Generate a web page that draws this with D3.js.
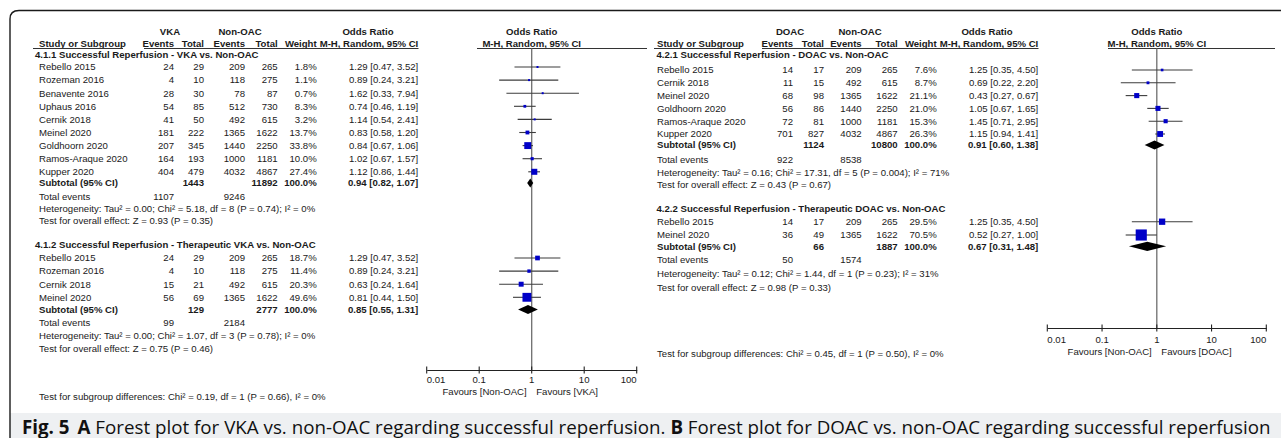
<!DOCTYPE html>
<html>
<head>
<meta charset="utf-8">
<script src="https://cdn.jsdelivr.net/npm/d3@7"></script>
<style>
  html, body { margin: 0; padding: 0; background: #fff; }
  svg { display: block; }
  .t { font-family: "Liberation Sans", Arial, sans-serif; fill: #1a1a1a; }
  .b { font-weight: bold; }
</style>
</head>
<body>
<svg id="fig" width="1281" height="438"></svg>
<script>
// ---------- Panel A: VKA vs. Non-OAC ----------
const a1Studies = ["Rebello 2015", "Rozeman 2016", "Benavente 2016", "Uphaus 2016", "Cernik 2018", "Meinel 2020", "Goldhoorn 2020", "Ramos-Araque 2020", "Kupper 2020"];
const a1ExpEvents = [24, 4, 28, 54, 41, 181, 207, 164, 404];
const a1ExpTotal = [29, 10, 30, 85, 50, 222, 345, 193, 479];
const a1CtlEvents = [209, 118, 78, 512, 492, 1365, 1440, 1000, 4032];
const a1CtlTotal = [265, 275, 87, 730, 615, 1622, 2250, 1181, 4867];
const a1Weight = [1.8, 1.1, 0.7, 8.3, 3.2, 13.7, 33.8, 10.0, 27.4];
const a1OR = [1.29, 0.89, 1.62, 0.74, 1.14, 0.83, 0.84, 1.02, 1.12];
const a1Lo = [0.47, 0.24, 0.33, 0.46, 0.54, 0.58, 0.67, 0.67, 0.86];
const a1Hi = [3.52, 3.21, 7.94, 1.19, 2.41, 1.20, 1.06, 1.57, 1.44];
const a1Subtotal = { expTotal: 1443, ctlTotal: 11892, or: 0.94, lo: 0.82, hi: 1.07, expEvents: 1107, ctlEvents: 9246 };
const a1Het = "Heterogeneity: Tau² = 0.00; Chi² = 5.18, df = 8 (P = 0.74); I² = 0%";
const a1Test = "Test for overall effect: Z = 0.93 (P = 0.35)";

const a2Studies = ["Rebello 2015", "Rozeman 2016", "Cernik 2018", "Meinel 2020"];
const a2ExpEvents = [24, 4, 15, 56];
const a2ExpTotal = [29, 10, 21, 69];
const a2CtlEvents = [209, 118, 492, 1365];
const a2CtlTotal = [265, 275, 615, 1622];
const a2Weight = [18.7, 11.4, 20.3, 49.6];
const a2OR = [1.29, 0.89, 0.63, 0.81];
const a2Lo = [0.47, 0.24, 0.24, 0.44];
const a2Hi = [3.52, 3.21, 1.64, 1.50];
const a2Subtotal = { expTotal: 129, ctlTotal: 2777, or: 0.85, lo: 0.55, hi: 1.31, expEvents: 99, ctlEvents: 2184 };
const a2Het = "Heterogeneity: Tau² = 0.00; Chi² = 1.07, df = 3 (P = 0.78); I² = 0%";
const a2Test = "Test for overall effect: Z = 0.75 (P = 0.46)";
const aSubgroupTest = "Test for subgroup differences: Chi² = 0.19, df = 1 (P = 0.66), I² = 0%";

// ---------- Panel B: DOAC vs. Non-OAC ----------
const b1Studies = ["Rebello 2015", "Cernik 2018", "Meinel 2020", "Goldhoorn 2020", "Ramos-Araque 2020", "Kupper 2020"];
const b1ExpEvents = [14, 11, 68, 56, 72, 701];
const b1ExpTotal = [17, 15, 98, 86, 81, 827];
const b1CtlEvents = [209, 492, 1365, 1440, 1000, 4032];
const b1CtlTotal = [265, 615, 1622, 2250, 1181, 4867];
const b1Weight = [7.6, 8.7, 21.1, 21.0, 15.3, 26.3];
const b1OR = [1.25, 0.69, 0.43, 1.05, 1.45, 1.15];
const b1Lo = [0.35, 0.22, 0.27, 0.67, 0.71, 0.94];
const b1Hi = [4.50, 2.20, 0.67, 1.65, 2.95, 1.41];
const b1Subtotal = { expTotal: 1124, ctlTotal: 10800, or: 0.91, lo: 0.60, hi: 1.38, expEvents: 922, ctlEvents: 8538 };
const b1Het = "Heterogeneity: Tau² = 0.16; Chi² = 17.31, df = 5 (P = 0.004); I² = 71%";
const b1Test = "Test for overall effect: Z = 0.43 (P = 0.67)";

const b2Studies = ["Rebello 2015", "Meinel 2020"];
const b2ExpEvents = [14, 36];
const b2ExpTotal = [17, 49];
const b2CtlEvents = [209, 1365];
const b2CtlTotal = [265, 1622];
const b2Weight = [29.5, 70.5];
const b2OR = [1.25, 0.52];
const b2Lo = [0.35, 0.27];
const b2Hi = [4.50, 1.00];
const b2Subtotal = { expTotal: 66, ctlTotal: 1887, or: 0.67, lo: 0.31, hi: 1.48, expEvents: 50, ctlEvents: 1574 };
const b2Het = "Heterogeneity: Tau² = 0.12; Chi² = 1.44, df = 1 (P = 0.23); I² = 31%";
const b2Test = "Test for overall effect: Z = 0.98 (P = 0.33)";
const bSubgroupTest = "Test for subgroup differences: Chi² = 0.45, df = 1 (P = 0.50), I² = 0%";

const tickValues = [0.01, 0.1, 1, 10, 100];
const tickLabels = ["0.01", "0.1", "1", "10", "100"];

// ---------- assemble sections ----------
function section(title, studies, ee, et, ce, ct, w, or, lo, hi, sub, het, test) {
  return {
    title, sub, het, test,
    rows: studies.map((s, i) => ({ name: s, ee: ee[i], et: et[i], ce: ce[i], ct: ct[i], w: w[i], or: or[i], lo: lo[i], hi: hi[i] }))
  };
}

const panelA = {
  expLabel: "VKA",
  favours: ["Favours [Non-OAC]", "Favours [VKA]"],
  subgroupTest: aSubgroupTest,
  sections: [
    section("4.1.1 Successful Reperfusion - VKA vs. Non-OAC", a1Studies, a1ExpEvents, a1ExpTotal, a1CtlEvents, a1CtlTotal, a1Weight, a1OR, a1Lo, a1Hi, a1Subtotal, a1Het, a1Test),
    section("4.1.2 Successful Reperfusion - Therapeutic VKA vs. Non-OAC", a2Studies, a2ExpEvents, a2ExpTotal, a2CtlEvents, a2CtlTotal, a2Weight, a2OR, a2Lo, a2Hi, a2Subtotal, a2Het, a2Test)
  ]
};
const panelB = {
  expLabel: "DOAC",
  favours: ["Favours [Non-OAC]", "Favours [DOAC]"],
  subgroupTest: bSubgroupTest,
  sections: [
    section("4.2.1 Successful Reperfusion - DOAC vs. Non-OAC", b1Studies, b1ExpEvents, b1ExpTotal, b1CtlEvents, b1CtlTotal, b1Weight, b1OR, b1Lo, b1Hi, b1Subtotal, b1Het, b1Test),
    section("4.2.2 Successful Reperfusion - Therapeutic DOAC vs. Non-OAC", b2Studies, b2ExpEvents, b2ExpTotal, b2CtlEvents, b2CtlTotal, b2Weight, b2OR, b2Lo, b2Hi, b2Subtotal, b2Het, b2Test)
  ]
};

// ---------- layout for each panel ----------
const layoutA = {
  nameX: 39, secX: 35,
  cols: { ee: 174, et: 204, ce: 245, ct: 277.7, w: 316.7, or: 418.3 },
  grpX: [170, 240], orHeadX: 368,
  plotRange: [426.7, 636.7],
  headY1: 32, headY2: 44, lineY: 48.5,
  underlines: [[33, 123], [144, 418.5], [477, 647]],
  axisY: 370, tickLabY: 380, favY: 391.5,
  secs: [
    { headY: 55, rowY0: 67, dy: 13.1, subY: 183, totY: 197, hetY: 209, testY: 220.5 },
    { headY: 245, rowY0: 258, dy: 13.1, subY: 309.5, totY: 322.7, hetY: 336, testY: 349 }
  ],
  subgroupY: 397
};
const layoutB = {
  nameX: 657, secX: 656.5,
  cols: { ee: 793, et: 824, ce: 861.7, ct: 897.7, w: 936.7, or: 1038.3 },
  grpX: [790, 860], orHeadX: 987,
  plotRange: [1047.3, 1266.3],
  headY1: 32, headY2: 44, lineY: 48.5,
  underlines: [[654, 740], [762, 1038.5], [1108, 1275]],
  axisY: 328, tickLabY: 340, favY: 352,
  secs: [
    { headY: 55, rowY0: 70, dy: 12.8, subY: 145, totY: 159.3, hetY: 172.3, testY: 184.3 },
    { headY: 208.3, rowY0: 221.7, dy: 13.3, subY: 246.3, totY: 260, hetY: 274, testY: 288 }
  ],
  subgroupY: 354
};

const FS = 9.6;
const svg = d3.select("#fig");

// caption band and rounded figure frame
svg.append("rect").attr("x", 10).attr("y", 413).attr("width", 1271).attr("height", 25).attr("fill", "#eef0f2");
svg.append("path")
  .attr("d", "M10,438 L10,19 Q10,10.5 19,10.5 L1281,10.5")
  .attr("fill", "none").attr("stroke", "#1a1a1a").attr("stroke-width", 1.4);

const fmt2 = d3.format(".2f");
const fmtW = d => d3.format(".1f")(d) + "%";
const sizeScale = d3.scalePow().exponent(0.65).domain([0, 100]).range([0, 0.7 * Math.pow(100, 0.65)]);

function txt(g, x, y, s, anchor, bold, size) {
  return g.append("text").attr("class", "t" + (bold ? " b" : ""))
    .attr("x", x).attr("y", y).attr("dy", "0.35em")
    .attr("text-anchor", anchor || "start")
    .style("font-size", (size || FS) + "px")
    .text(s);
}

function drawPanel(p, L) {
  const g = svg.append("g");
  const x = d3.scaleLog().domain([0.01, 100]).range(L.plotRange);
  const c = L.cols;

  // column headers
  txt(g, L.grpX[0], L.headY1, p.expLabel, "middle", true);
  txt(g, L.grpX[1], L.headY1, "Non-OAC", "middle", true);
  txt(g, L.orHeadX, L.headY1, "Odds Ratio", "middle", true);
  txt(g, x(1), L.headY1, "Odds Ratio", "middle", true);
  txt(g, L.nameX, L.headY2, "Study or Subgroup", "start", true);
  txt(g, c.ee, L.headY2, "Events", "end", true);
  txt(g, c.et, L.headY2, "Total", "end", true);
  txt(g, c.ce, L.headY2, "Events", "end", true);
  txt(g, c.ct, L.headY2, "Total", "end", true);
  txt(g, c.w, L.headY2, "Weight", "end", true);
  txt(g, c.or, L.headY2, "M-H, Random, 95% CI", "end", true);
  txt(g, x(1), L.headY2, "M-H, Random, 95% CI", "middle", true);
  L.underlines.forEach(([x0, x1]) => {
    g.append("line").attr("x1", x0).attr("x2", x1).attr("y1", L.lineY).attr("y2", L.lineY)
      .attr("stroke", "#333").attr("stroke-width", 1.1);
  });

  // line of no effect
  g.append("line").attr("x1", x(1)).attr("x2", x(1)).attr("y1", L.lineY).attr("y2", L.axisY)
    .attr("stroke", "#6e6e6e").attr("stroke-width", 1.3);

  p.sections.forEach((s, si) => {
    const S = L.secs[si];
    txt(g, L.secX, S.headY, s.title, "start", true);
    s.rows.forEach((r, i) => {
      const y = S.rowY0 + i * S.dy;
      txt(g, L.nameX, y, r.name);
      txt(g, c.ee, y, r.ee, "end");
      txt(g, c.et, y, r.et, "end");
      txt(g, c.ce, y, r.ce, "end");
      txt(g, c.ct, y, r.ct, "end");
      txt(g, c.w, y, fmtW(r.w), "end");
      txt(g, c.or, y, `${fmt2(r.or)} [${fmt2(r.lo)}, ${fmt2(r.hi)}]`, "end");
      g.append("line").attr("x1", x(r.lo)).attr("x2", x(r.hi)).attr("y1", y).attr("y2", y)
        .attr("stroke", "#3c3c3c").attr("stroke-width", 1.1);
      const sz = Math.max(2, sizeScale(r.w));
      g.append("rect").attr("x", x(r.or) - sz / 2).attr("y", y - sz / 2)
        .attr("width", sz).attr("height", sz).attr("fill", "#0000c8");
    });
    const sub = s.sub;
    txt(g, L.nameX, S.subY, "Subtotal (95% CI)", "start", true);
    txt(g, c.et, S.subY, sub.expTotal, "end", true);
    txt(g, c.ct, S.subY, sub.ctlTotal, "end", true);
    txt(g, c.w, S.subY, fmtW(100), "end", true);
    txt(g, c.or, S.subY, `${fmt2(sub.or)} [${fmt2(sub.lo)}, ${fmt2(sub.hi)}]`, "end", true);
    const h = 4.6;
    g.append("path")
      .attr("d", `M${x(sub.lo)},${S.subY} L${x(sub.or)},${S.subY - h} L${x(sub.hi)},${S.subY} L${x(sub.or)},${S.subY + h} Z`)
      .attr("fill", "#000");
    txt(g, L.nameX, S.totY, "Total events");
    txt(g, c.ee, S.totY, sub.expEvents, "end");
    txt(g, c.ce, S.totY, sub.ctlEvents, "end");
    txt(g, L.nameX, S.hetY, s.het);
    txt(g, L.nameX, S.testY, s.test);
  });

  txt(g, L.nameX, L.subgroupY, p.subgroupTest);

  // log axis
  const axis = d3.axisBottom(x).tickValues(tickValues).tickSize(0).tickFormat("");
  const ag = g.append("g").attr("transform", `translate(0,${L.axisY})`).call(axis);
  ag.select(".domain").attr("stroke", "#222").attr("stroke-width", 1.1);
  tickValues.forEach(v => {
    g.append("line").attr("x1", x(v)).attr("x2", x(v)).attr("y1", L.axisY - 3.5).attr("y2", L.axisY + 3.5)
      .attr("stroke", "#222").attr("stroke-width", 1.1);
  });
  tickLabels.forEach((lab, i) => {
    const anchor = i === 0 ? "start" : (i === tickLabels.length - 1 ? "end" : "middle");
    txt(g, x(tickValues[i]), L.tickLabY, lab, anchor);
  });
  txt(g, x(1) - 5, L.favY, p.favours[0], "end");
  txt(g, x(1) + 4.5, L.favY, p.favours[1], "start");
}

drawPanel(panelA, layoutA);
drawPanel(panelB, layoutB);

// figure caption
const cap = svg.append("text")
  .attr("x", 22).attr("y", 427).attr("dy", "0.35em")
  .style("font-family", "'Open Sans', 'Noto Sans', sans-serif")
  .style("font-size", "16px").attr("fill", "#111");
cap.append("tspan").style("font-weight", "bold").text("Fig. 5");
cap.append("tspan").attr("dx", 8).style("font-weight", "bold").text("A");
cap.append("tspan").text(" Forest plot for VKA vs. non-OAC regarding successful reperfusion. ");
cap.append("tspan").style("font-weight", "bold").text("B");
cap.append("tspan").text(" Forest plot for DOAC vs. non-OAC regarding successful reperfusion");
const capW = cap.node().getComputedTextLength();
cap.style("font-size", (16 * 1241 / capW).toFixed(2) + "px");
</script>
</body>
</html>
